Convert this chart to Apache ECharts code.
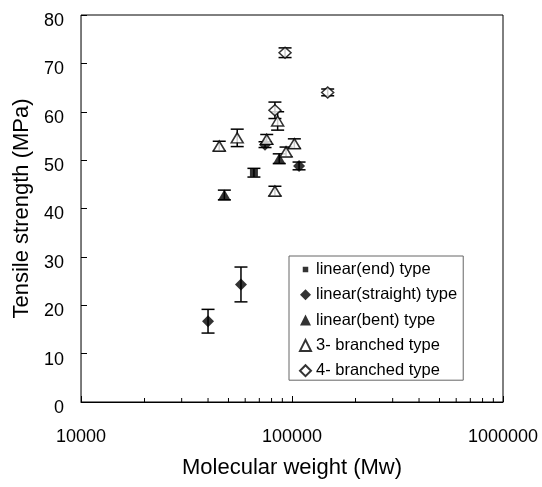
<!DOCTYPE html>
<html>
<head>
<meta charset="utf-8">
<title>Tensile strength vs molecular weight</title>
<script src="https://cdn.jsdelivr.net/npm/echarts@6/dist/echarts.min.js"></script>
<style>
  html, body { margin: 0; padding: 0; background: #fff; }
  #container { width: 542px; height: 487px; }
</style>
</head>
<body>
<div id="container"></div>
<script>
// data: [Mw, tensile strength (MPa), error (+/-)]
var linearEnd = [[66000, 47.4, 0.9]]
var linearStraight = [[40000, 16.7, 2.45], [57300, 24.3, 3.6], [74500, 53.2, 0.6], [108000, 48.8, 0.8]]
var linearBent = [[47800, 42.8, 1.0], [87000, 50.3, 1.0]]
var branched3 = [[45200, 52.9, 1.0], [55000, 54.6, 1.8], [75900, 54.3, 1.0], [85500, 58.1, 1.9],
                 [93700, 51.7, 1.0], [102600, 53.4, 1.0], [83000, 43.6, 1.0]]
var branched4 = [[92700, 72.2, 1.0], [147600, 64.0, 0.7], [83000, 60.3, 1.7]]

var seriesNames = ['linear(end) type', 'linear(straight) type', 'linear(bent) type', '3- branched type', '4- branched type']
var yTicks = [0, 80, 10]
var xTicks = [10000, 1000000]
var minorTicks = [20000, 30000, 40000, 50000, 60000, 70000, 80000, 90000,
                  200000, 300000, 400000, 500000, 600000, 700000, 800000, 900000]

var FONT = '"Liberation Sans", Arial, sans-serif'

var dom = document.getElementById('container')
var myChart = echarts.init(dom, null, { renderer: 'canvas' })

//把所有点合并成误差棒数据 [x, low, high]
var errData = []
;[linearEnd, linearStraight, linearBent, branched3, branched4].forEach(function (arr) {
    arr.forEach(function (p) {
        errData.push([p[0], p[1] - p[2], p[1] + p[2]])
    })
})

function renderErr(params, api) {
    var x = api.value(0)
    var lo = api.coord([x, api.value(1)])
    var hi = api.coord([x, api.value(2)])
    var w = 6.5
    var style = { stroke: '#000', lineWidth: 1.5 }
    return {
        type: 'group',
        children: [
            { type: 'line', shape: { x1: lo[0], y1: lo[1], x2: hi[0], y2: hi[1] }, style: style },
            { type: 'line', shape: { x1: lo[0] - w, y1: lo[1], x2: lo[0] + w, y2: lo[1] }, style: style },
            { type: 'line', shape: { x1: hi[0] - w, y1: hi[1], x2: hi[0] + w, y2: hi[1] }, style: style }
        ]
    }
}

function renderMinor(params, api) {
    var p = api.coord([api.value(0), 0])
    return {
        type: 'line',
        shape: { x1: p[0], y1: p[1], x2: p[0], y2: p[1] - 4 },
        style: { stroke: '#000', lineWidth: 1 }
    }
}

function pts(arr) {
    return arr.map(function (p) { return [p[0], p[1]] })
}

var filled = { color: '#000' }
var open = { color: '#fff', borderColor: '#000', borderWidth: 1.5 }

// legend: the square marker is drawn smaller than the others
var legendData = seriesNames.map(function (n, i) {
    return i === 0 ? { name: n, icon: 'path://M0,0M12,12M3,3h6v6h-6z' } : { name: n }
})

option = {
    animation: false,
    backgroundColor: '#fff',
    textStyle: { fontFamily: FONT },
    grid: {
        left: 81, right: 39, top: 15, bottom: 85,
        show: true, borderColor: '#000', borderWidth: 1
    },
    xAxis: {
        type: 'log',
        logBase: 10,
        min: xTicks[0],
        max: xTicks[1],
        name: 'Molecular weight (Mw)',
        nameLocation: 'middle',
        nameGap: 55,
        nameTextStyle: { fontSize: 22, color: '#000', fontFamily: FONT },
        axisLine: { lineStyle: { color: '#000', width: 1 } },
        axisTick: { inside: true, length: 6, lineStyle: { color: '#000' } },
        axisLabel: {
            margin: 26, fontSize: 18, color: '#000', fontFamily: FONT,
            formatter: function (v) { return String(Math.round(v)) }
        },
        splitLine: { show: false },
        minorTick: { show: false }
    },
    yAxis: {
        type: 'value',
        min: yTicks[0],
        max: yTicks[1],
        interval: yTicks[2],
        name: 'Tensile strength (MPa)',
        nameLocation: 'middle',
        nameGap: 45,
        nameTextStyle: { fontSize: 22, color: '#000', fontFamily: FONT },
        axisLine: { show: true, lineStyle: { color: '#777', width: 1 } },
        axisTick: { show: true, inside: true, length: 6, lineStyle: { color: '#000' } },
        axisLabel: {
            margin: 17, fontSize: 18, color: '#000', fontFamily: FONT,
            verticalAlign: 'top', lineHeight: 12
        },
        splitLine: { show: false }
    },
    legend: {
        data: legendData,
        orient: 'vertical',
        left: 289,
        top: 256,
        padding: [5, 6, 1, 10],
        itemWidth: 11,
        itemHeight: 11,
        itemGap: 8.3,
        borderColor: '#666',
        borderWidth: 1,
        backgroundColor: '#fff',
        textStyle: { fontSize: 16.5, color: '#000', fontFamily: FONT }
    },
    series: [
        {
            type: 'custom', name: 'minor', renderItem: renderMinor, silent: true,
            data: minorTicks.map(function (v) { return [v] }), z: 1,
            encode: { x: 0 }
        },
        {
            type: 'custom', name: 'err', renderItem: renderErr, silent: true,
            data: errData, z: 2,
            encode: { x: 0, y: [1, 2] }
        },
        { type: 'scatter', name: seriesNames[0], data: pts(linearEnd), symbol: 'rect', symbolSize: 8, itemStyle: filled, z: 5 },
        { type: 'scatter', name: seriesNames[1], data: pts(linearStraight), symbol: 'diamond', symbolSize: [12, 12], itemStyle: filled, z: 5 },
        { type: 'scatter', name: seriesNames[2], data: pts(linearBent), symbol: 'triangle', symbolSize: [13, 11], itemStyle: filled, z: 5 },
        { type: 'scatter', name: seriesNames[3], data: pts(branched3), symbol: 'triangle', symbolSize: [12, 10], itemStyle: open, z: 5 },
        { type: 'scatter', name: seriesNames[4], data: pts(branched4), symbol: 'diamond', symbolSize: [12, 11], itemStyle: open, z: 5 }
    ]
}

myChart.setOption(option)
</script>
</body>
</html>
